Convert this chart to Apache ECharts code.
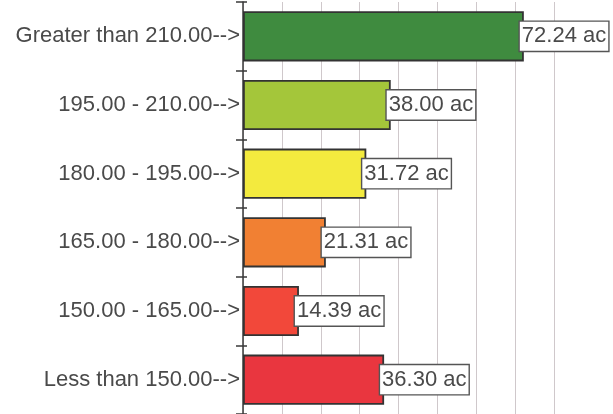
<!DOCTYPE html>
<html>
<head>
<meta charset="utf-8">
<script src="https://cdn.jsdelivr.net/npm/echarts@6/dist/echarts.min.js"></script>
<style>
  html, body { margin: 0; padding: 0; background: #ffffff; }
  #chart { width: 613px; height: 414px; }
</style>
</head>
<body>
<div id="chart"></div>
<script>
// Acreage per elevation class, listed top to bottom
const categories = [
  'Greater than 210.00-->',
  '195.00 - 210.00-->',
  '180.00 - 195.00-->',
  '165.00 - 180.00-->',
  '150.00 - 165.00-->',
  'Less than 150.00-->'
];
const acres = [72.24, 38.00, 31.72, 21.31, 14.39, 36.30];
const barColors = ['#3f8b3f', '#a4c63a', '#f3ea3e', '#f18033', '#f2483a', '#e9363f'];
const unit = 'ac';

const chart = echarts.init(document.getElementById('chart'), null, { renderer: 'canvas' });

const textFont = 'Liberation Sans, Arial, sans-serif';

chart.setOption({
  animation: false,
  backgroundColor: '#ffffff',
  grid: { left: 243, right: 59, top: 2, bottom: 0, containLabel: false },
  xAxis: {
    type: 'value',
    min: 0,
    max: 80,
    interval: 10,
    axisLabel: { show: false },
    axisLine: { show: false },
    axisTick: { show: false },
    splitLine: { show: true, lineStyle: { color: '#cfc8cb', width: 1 } }
  },
  yAxis: [
    {
      type: 'category',
      data: categories,
      inverse: true,
      axisLine: { show: true, lineStyle: { color: '#3a3a3a', width: 1.5 } },
      axisTick: { show: true, length: 7, lineStyle: { color: '#3a3a3a', width: 1.5 } },
      axisLabel: {
        margin: 3,
        color: '#4a4a4a',
        fontFamily: textFont,
        fontSize: 22,
        padding: [5, 0, 0, 0]
      },
      splitLine: { show: false }
    },
    {
      // inner half of the tick marks, so each boundary reads as a cross
      type: 'category',
      data: categories,
      inverse: true,
      position: 'left',
      axisLine: { show: false },
      axisTick: { show: true, inside: true, length: 4, lineStyle: { color: '#3a3a3a', width: 1.5 } },
      axisLabel: { show: false },
      splitLine: { show: false }
    }
  ],
  series: [
    {
      type: 'bar',
      yAxisIndex: 0,
      data: acres.map((v, i) => ({ value: v, itemStyle: { color: barColors[i] } })),
      barCategoryGap: '27%',
      itemStyle: { borderColor: '#333333', borderWidth: 1.8 },
      label: {
        show: true,
        position: 'right',
        distance: 0,
        offset: [-4, 0],
        formatter: p => p.value.toFixed(2) + ' ' + unit,
        color: '#4a4a4a',
        fontFamily: textFont,
        fontSize: 22,
        backgroundColor: '#ffffff',
        borderColor: '#555',
        borderWidth: 1.4,
        padding: [4, 2, 3, 2]
      }
    }
  ]
});
</script>
</body>
</html>
